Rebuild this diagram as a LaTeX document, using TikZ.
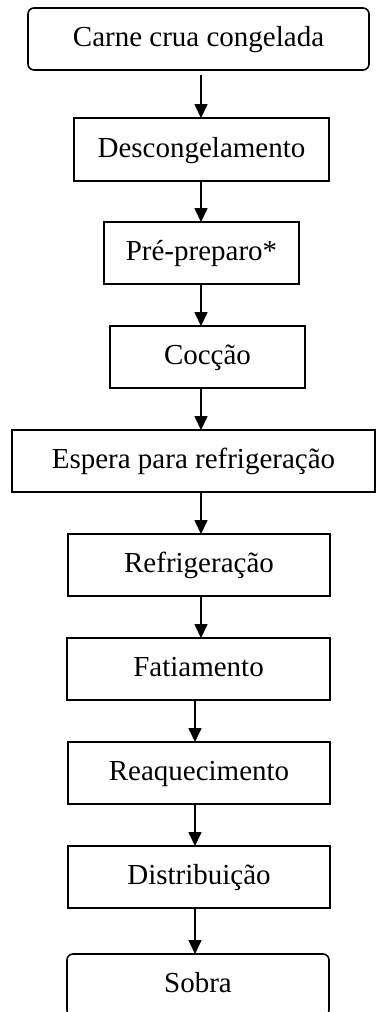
\documentclass[tikz,border=0pt]{standalone}
\usepackage{fontspec}
\setmainfont{Liberation Serif}
\usetikzlibrary{arrows.meta}
\begin{document}
\begin{tikzpicture}[x=1pt,y=1pt,
  stepbox/.style={draw, line width=1.6pt, inner sep=0pt, outer sep=0pt,
    font=\fontsize{29}{34}\selectfont, text height=21.75pt, text depth=5.8pt},
  endbox/.style={stepbox, rounded corners=6pt},
  arr/.style={line width=1.6pt, -{Triangle[length=14pt,width=13pt]}}]
\useasboundingbox (0,0) rectangle (376,-1012);
\clip (0,0) rectangle (376,-1012);
\fill[white] (0,0) rectangle (376,-1012);
\node[endbox, minimum width=341, minimum height=62] (b1) at (198.5,-39) {Carne crua congelada};
\node[stepbox, minimum width=255, minimum height=63] (b2) at (201.5,-149.5) {Descongelamento};
\node[stepbox, minimum width=195, minimum height=62] (b3) at (201.5,-253) {Pré-preparo*};
\node[stepbox, minimum width=195, minimum height=62] (b4) at (207.5,-357) {Cocção};
\node[stepbox, minimum width=363, minimum height=62] (b5) at (193.5,-461) {Espera para refrigeração};
\node[stepbox, minimum width=262, minimum height=62] (b6) at (199,-565) {Refrigeração};
\node[stepbox, minimum width=263, minimum height=62] (b7) at (198.5,-669) {Fatiamento};
\node[stepbox, minimum width=262, minimum height=62] (b8) at (199,-773) {Reaquecimento};
\node[stepbox, minimum width=262, minimum height=62] (b9) at (199,-877) {Distribuição};
\node[endbox, minimum width=262, minimum height=62] (b10) at (198,-985) {Sobra};
\coordinate (cA) at (201,0);
\coordinate (cB) at (195,0);
\draw[arr, shorten <=5pt] (b1.south -| cA) -- (b2.north -| cA);
\draw[arr] (b2.south -| cA) -- (b3.north -| cA);
\draw[arr] (b3.south -| cA) -- (b4.north -| cA);
\draw[arr] (b4.south -| cA) -- (b5.north -| cA);
\draw[arr] (b5.south -| cA) -- (b6.north -| cA);
\draw[arr] (b6.south -| cA) -- (b7.north -| cA);
\draw[arr] (b7.south -| cB) -- (b8.north -| cB);
\draw[arr] (b8.south -| cB) -- (b9.north -| cB);
\draw[arr] (b9.south -| cB) -- (b10.north -| cB);
\end{tikzpicture}
\end{document}
